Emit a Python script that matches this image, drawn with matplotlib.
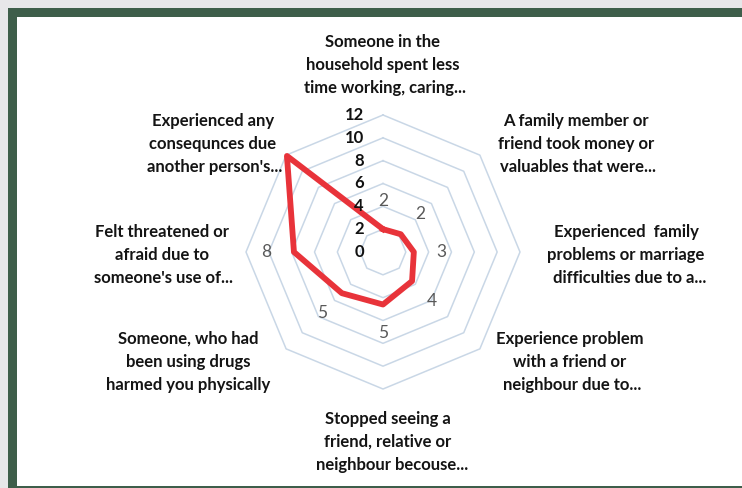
import numpy as np
import matplotlib
matplotlib.use("Agg")
import matplotlib.pyplot as plt
from matplotlib.patches import Rectangle

# categories, clockwise from the top
categories = [
    "Someone in the\nhousehold spent less\n time working, caring...",
    "A family member or\nfriend took money or\n valuables that were...",
    "Experienced  family\nproblems or marriage\n  difficulties due to a...",
    "Experience problem\nwith a friend or\n neighbour due to...",
    "Stopped seeing a\nfriend, relative or\n  neighbour becouse...",
    "Someone, who had\nbeen using drugs\nharmed you physically",
    "Felt threatened or\nafraid due to\n someone's use of...",
    "Experienced any\nconsequnces due\n another person's...",
]
values = [2.0, 2.2, 2.7, 3.6, 4.6, 5.1, 7.8, 11.9]
show_label = [True, True, True, True, True, True, True, False]
ticks = [0, 2, 4, 6, 8, 10, 12]

# label centres in pixels (x from left, y from top) - layout only
cat_pos = [(383, 65), (576, 144), (626, 255), (570, 362),
           (388, 442), (188, 362), (162, 255), (213, 144)]

W, H = 742, 488
fig = plt.figure(figsize=(W / 100, H / 100), dpi=100)
fig.patch.set_facecolor("#e7e7e9")
fig.patches.append(Rectangle((8 / W, 0), 734 / W, 480 / H, transform=fig.transFigure,
                             facecolor="#3e5e4a", edgecolor="none", zorder=-2))
fig.patches.append(Rectangle((17 / W, 2 / H), 725 / W, 469 / H, transform=fig.transFigure,
                             facecolor="white", edgecolor="none", zorder=-1))

cx, cy, R = 383, 252, 137
ax = fig.add_axes([(cx - R) / W, (H - cy - R) / H, 2 * R / W, 2 * R / H], projection="polar")
ax.set_theta_offset(np.pi / 2)
ax.set_theta_direction(-1)
ax.set_ylim(0, 12)
ax.patch.set_alpha(0)
ax.grid(False)
ax.spines["polar"].set_visible(False)
ax.set_xticks([])
ax.set_yticks([])

n = len(values)
theta = np.linspace(0, 2 * np.pi, n, endpoint=False)
theta_c = np.append(theta, theta[0])

# octagon rings
for t in ticks[1:]:
    ax.plot(theta_c, [t] * (n + 1), color="#c9d7e6", lw=1.1, zorder=1, clip_on=False)

# radial tick labels
for t in ticks:
    ax.annotate(str(t), xy=(0, t), xytext=(-19, 0), textcoords="offset pixels",
                ha="right", va="center", fontsize=12, fontweight="bold",
                family="Lato", color="#111111", zorder=3)

# the series
vals_c = values + values[:1]
ax.plot(theta_c, vals_c, color="#e8333a", lw=4.2, zorder=2, clip_on=False)

# data labels
for th, v, show in zip(theta, values, show_label):
    if not show:
        continue
    off = 28
    ax.annotate(f"{v:.0f}", xy=(th, v), xytext=(off * np.sin(th), off * np.cos(th)),
                textcoords="offset pixels", ha="center", va="center",
                fontsize=12.5, family="Lato", color="#595959", zorder=3)

# category labels
for txt, (px, py) in zip(categories, cat_pos):
    fig.text(px / W, 1 - py / H, txt, ha="center", va="center", multialignment="center",
             fontsize=12, fontweight="bold", family="Lato", color="#141414",
             linespacing=1.55)

fig.savefig("out.png", dpi=100, facecolor=fig.get_facecolor())
